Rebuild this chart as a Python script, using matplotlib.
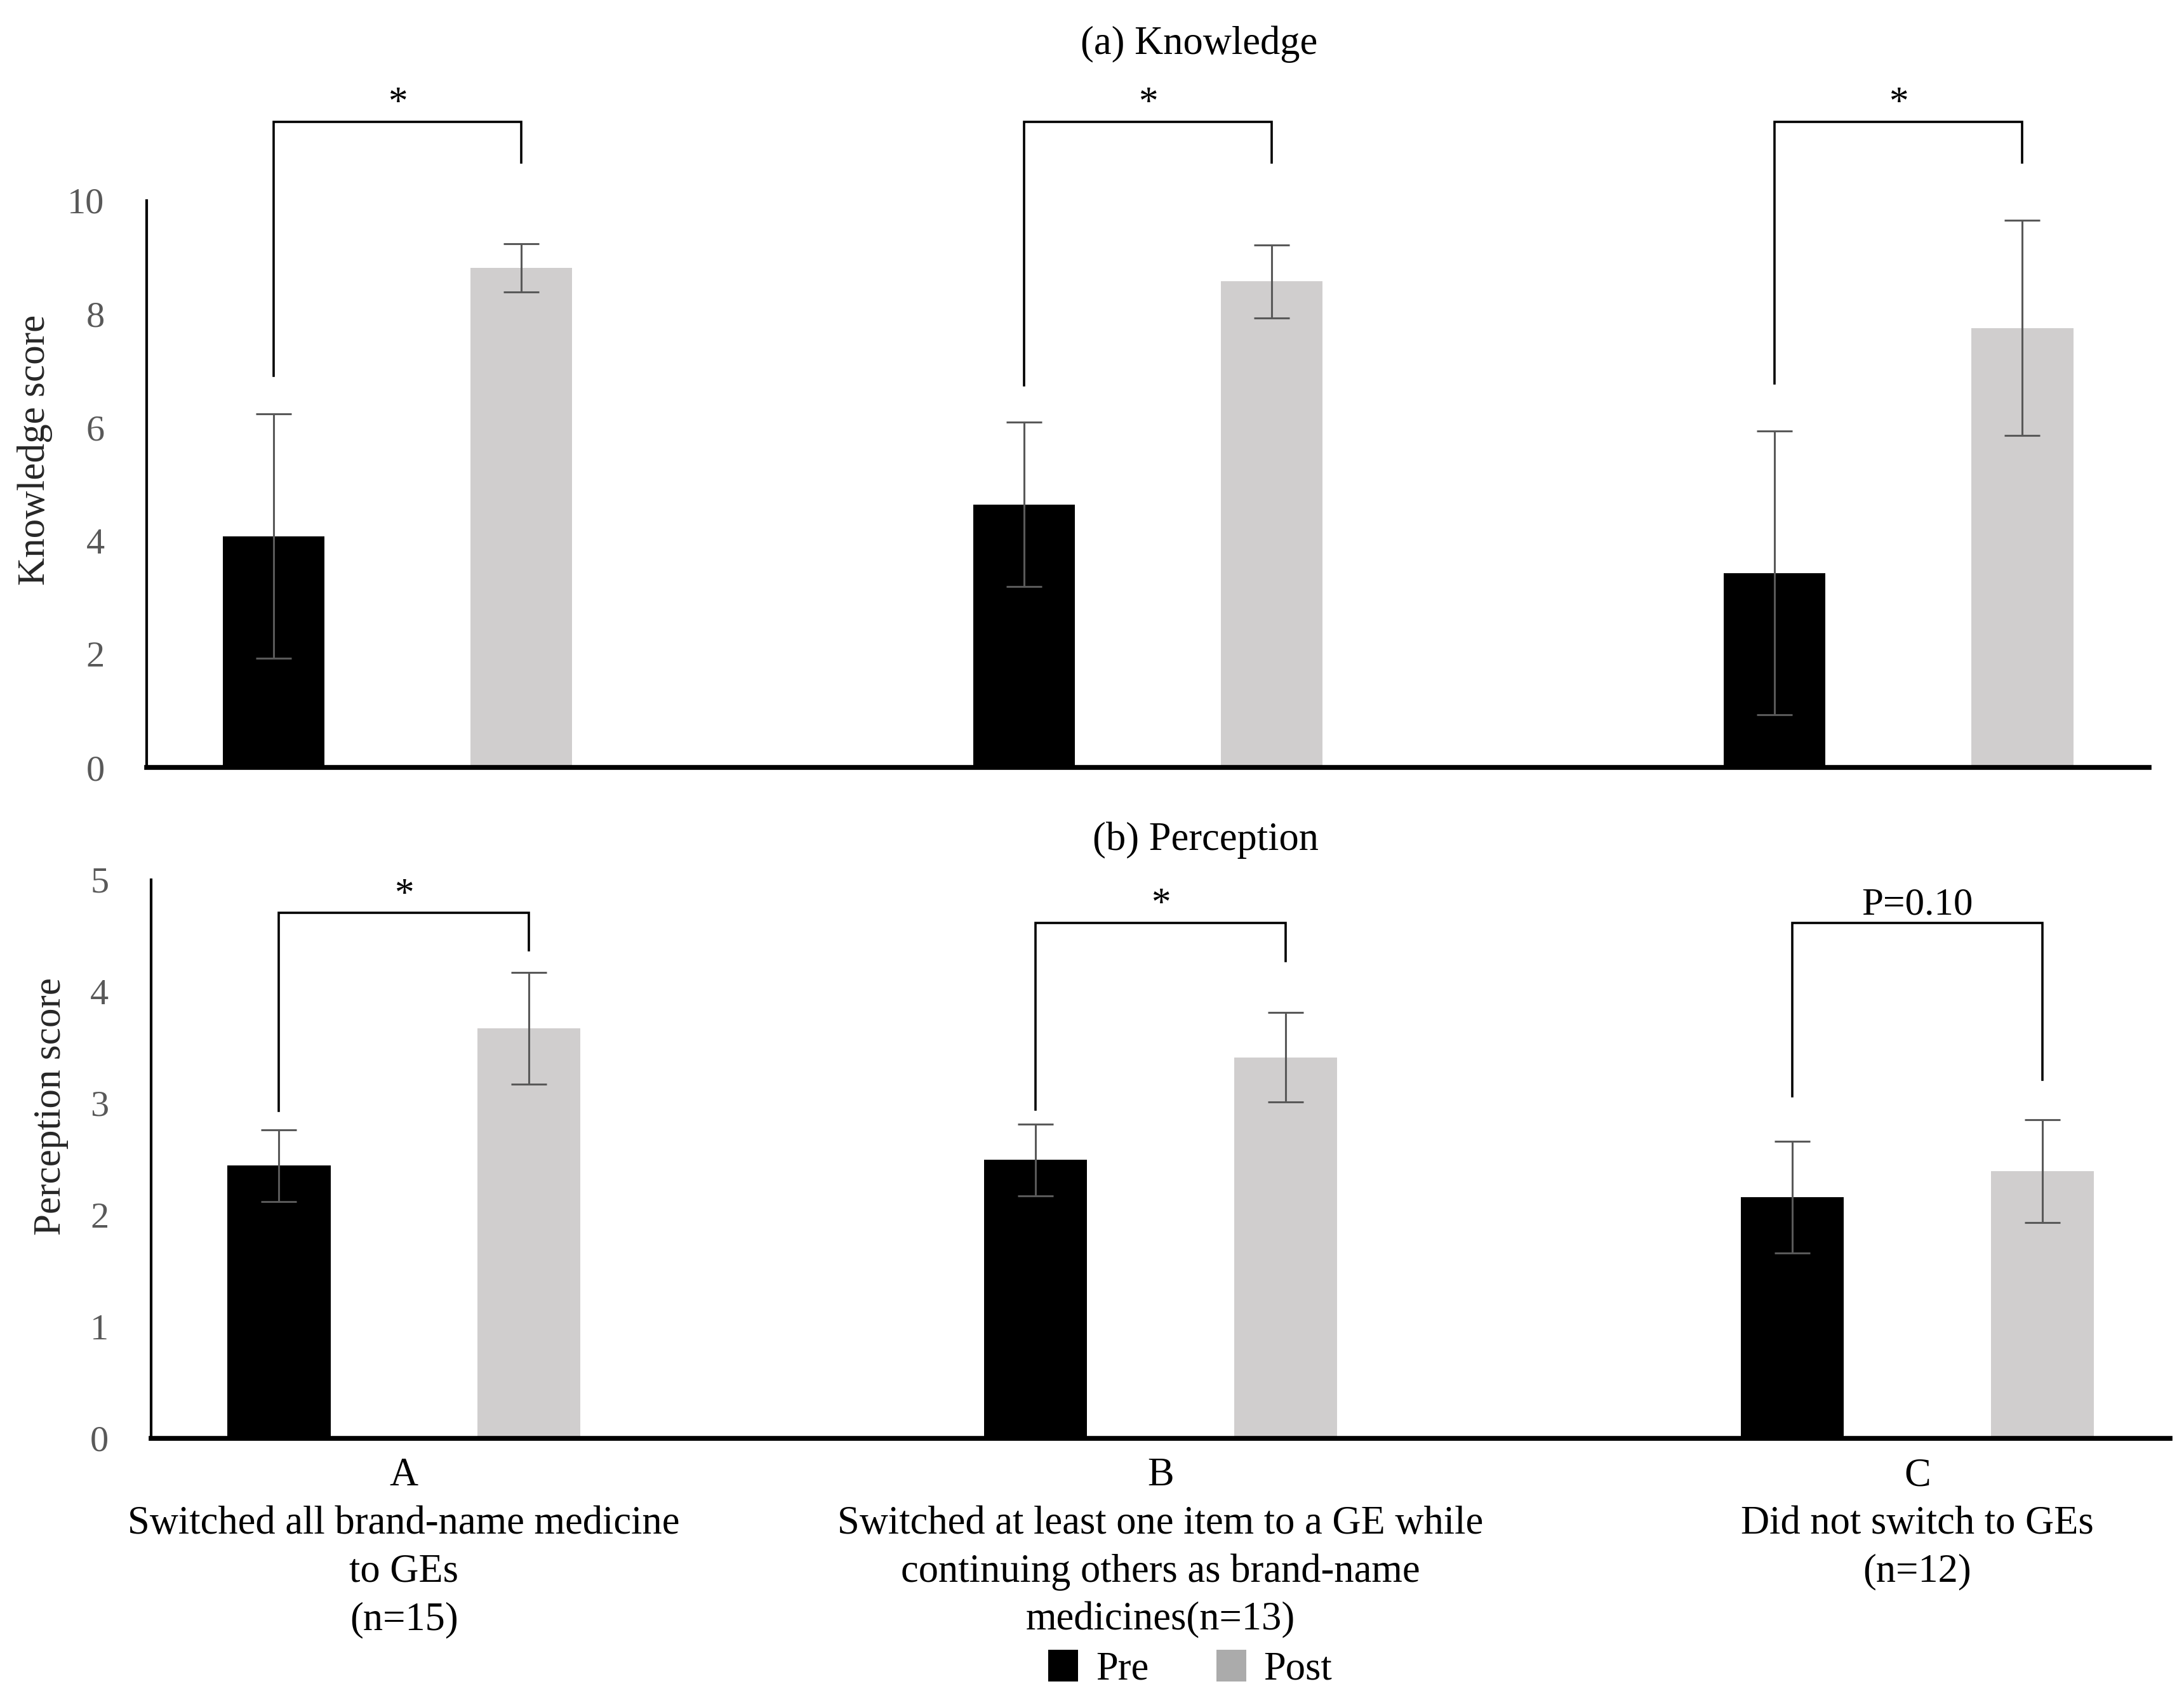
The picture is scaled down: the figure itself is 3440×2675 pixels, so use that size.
import matplotlib
matplotlib.use("Agg")
import matplotlib.pyplot as plt
import matplotlib.patches as mpatches
import numpy as np

plt.rcParams['font.family'] = ['Liberation Serif', 'DejaVu Serif']

# Categories
groups = ["A\nSwitched all brand-name medicine\nto GEs\n(n=15)",
          "B\nSwitched at least one item to a GE while\ncontinuing others as brand-name\nmedicines(n=13)",
          "C\nDid not switch to GEs\n(n=12)"]

# (a) Knowledge
know_pre = [4.08, 4.64, 3.43]
know_pre_sd = [2.15, 1.45, 2.50]
know_post = [8.81, 8.57, 7.75]
know_post_sd = [0.43, 0.64, 1.90]
know_sig = ["*", "*", "*"]
know_brk_left = [6.91, 6.74, 6.77]
know_brk_top = [11.38, 11.38, 11.38]
know_brk_right = [10.67, 10.67, 10.67]

# (b) Perception
perc_pre = [2.44, 2.49, 2.16]
perc_pre_sd = [0.32, 0.32, 0.50]
perc_post = [3.67, 3.41, 2.39]
perc_post_sd = [0.50, 0.40, 0.46]
perc_sig = ["*", "*", "P=0.10"]
perc_brk_left = [2.93, 2.94, 3.06]
perc_brk_top = [4.70, 4.61, 4.61]
perc_brk_right = [4.37, 4.27, 3.21]

PRE_COL = "#000000"
POST_COL = "#D0CECE"
TICK_COL = "#595959"

fig = plt.figure(figsize=(34.4, 26.75), dpi=100)
ax1 = fig.add_axes([0.0672, 0.548, 0.9168, 0.334])
ax2 = fig.add_axes([0.0692, 0.153, 0.9244, 0.329])

x = np.arange(len(groups))
w = 0.136
off = 0.165


def draw_panel(ax, pre, pre_sd, post, post_sd, sig, bl, bt, br, ymax, ylabel, lab_y):
    ax.bar(x - off, pre, w, color=PRE_COL, zorder=2)
    ax.bar(x + off, post, w, color=POST_COL, zorder=2)
    ax.errorbar(x - off, pre, yerr=pre_sd, fmt='none', ecolor=TICK_COL,
                elinewidth=2.2, capsize=20, capthick=2.2, zorder=3)
    ax.errorbar(x + off, post, yerr=post_sd, fmt='none', ecolor=TICK_COL,
                elinewidth=2.2, capsize=20, capthick=2.2, zorder=3)
    # significance brackets
    for i in range(len(x)):
        xl, xr = x[i] - off, x[i] + off
        ax.plot([xl, xl, xr, xr], [bl[i], bt[i], bt[i], br[i]], color='black',
                lw=2.6, clip_on=False, solid_joinstyle='miter', zorder=4)
        ax.annotate(sig[i], (x[i], bt[i]), xytext=(0, 10), textcoords='offset points',
                    ha='center', va='baseline', fontsize=44, color='black',
                    annotation_clip=False)
    ax.set_xlim(-0.334, 2.334)
    ax.set_ylim(0, ymax)
    ax.spines['top'].set_visible(False)
    ax.spines['right'].set_visible(False)
    ax.spines['left'].set_linewidth(3)
    ax.spines['bottom'].set_linewidth(5.5)
    ax.tick_params(axis='y', length=0, pad=48, labelsize=42, labelcolor=TICK_COL)
    ax.set_ylabel(ylabel, fontsize=44, color='#262626')
    ax.yaxis.set_label_coords(lab_y[0], lab_y[1])


draw_panel(ax1, know_pre, know_pre_sd, know_post, know_post_sd, know_sig,
           know_brk_left, know_brk_top, know_brk_right, 10, "Knowledge score", (-0.047, 0.56))
ax1.set_yticks([0, 2, 4, 6, 8, 10])
ax1.set_xticks([])

draw_panel(ax2, perc_pre, perc_pre_sd, perc_post, perc_post_sd, perc_sig,
           perc_brk_left, perc_brk_top, perc_brk_right, 5, "Perception score", (-0.041, 0.594))
ax2.set_yticks([0, 1, 2, 3, 4, 5])
ax2.set_xticks(x)
ax2.set_xticklabels(groups, fontsize=45, color='black', linespacing=1.4)
ax2.tick_params(axis='x', length=0, pad=22)

fig.text(0.549, 0.974, "(a) Knowledge", ha='center', va='center', fontsize=45)
fig.text(0.552, 0.505, "(b) Perception", ha='center', va='center', fontsize=45)

pre_patch = mpatches.Patch(facecolor=PRE_COL, label='Pre')
post_patch = mpatches.Patch(facecolor='#ABABAB', label='Post')
fig.legend(handles=[pre_patch, post_patch], loc='center', bbox_to_anchor=(0.545, 0.017),
           ncol=2, frameon=False, fontsize=45, handlelength=0.75, handleheight=0.85,
           handletextpad=0.45, columnspacing=1.7)

fig.savefig('out.png', dpi=100)
